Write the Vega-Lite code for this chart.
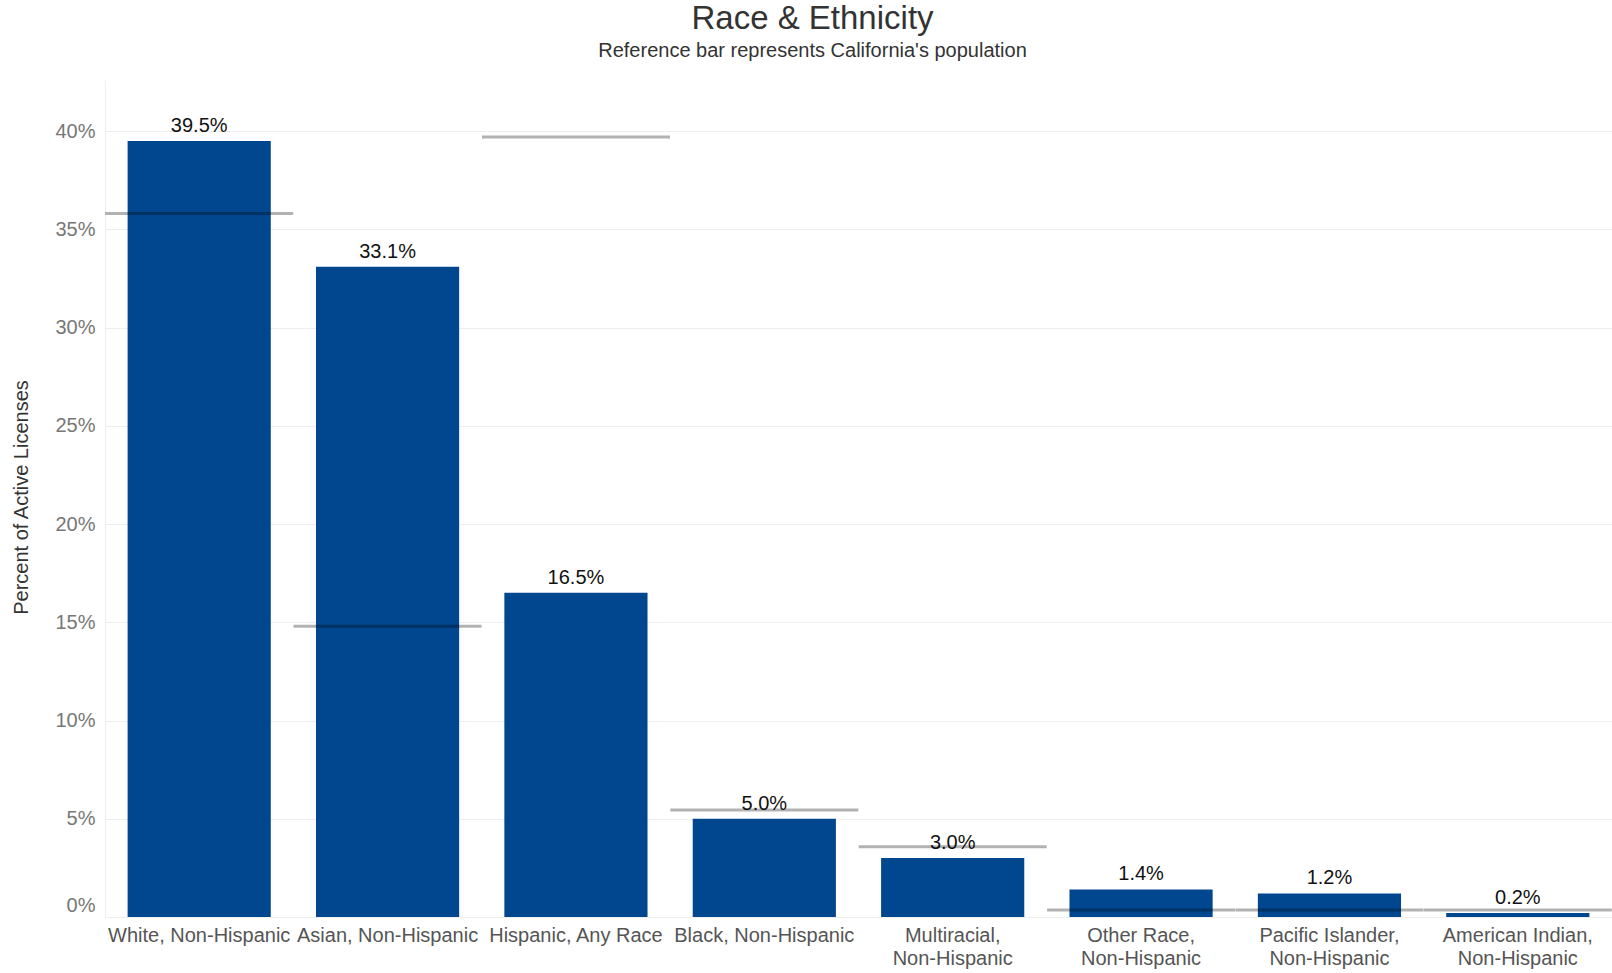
{
  "$schema": "https://vega.github.io/schema/vega-lite/v6.json",
  "width": 1507,
  "height": 837,
  "autosize": {"type": "none"},
  "padding": {"left": 105, "top": 80, "right": 0, "bottom": 56},
  "background": "white",
  "config": {"view": {"stroke": null}, "font": "Liberation Sans"},
  "title": {
    "text": "Race & Ethnicity",
    "subtitle": "Reference bar represents California's population",
    "font": "Liberation Sans",
    "fontSize": 33,
    "fontWeight": "normal",
    "color": "#333333",
    "subtitleFont": "Liberation Sans",
    "subtitleFontSize": 20,
    "subtitleColor": "#333333",
    "anchor": "middle",
    "dx": -46,
    "offset": 19,
    "subtitlePadding": 5
  },
  "data": {
    "values": [
      {"category": "White, Non-Hispanic", "value": 0.395, "ca": 0.358},
      {"category": "Asian, Non-Hispanic", "value": 0.331, "ca": 0.148},
      {"category": "Hispanic, Any Race", "value": 0.165, "ca": 0.397},
      {"category": "Black, Non-Hispanic", "value": 0.050, "ca": 0.0545},
      {"category": "Multiracial, Non-Hispanic", "value": 0.030, "ca": 0.0358},
      {"category": "Other Race, Non-Hispanic", "value": 0.014, "ca": 0.0036},
      {"category": "Pacific Islander, Non-Hispanic", "value": 0.012, "ca": 0.0036},
      {"category": "American Indian, Non-Hispanic", "value": 0.002, "ca": 0.0036}
    ]
  },
  "encoding": {
    "x": {
      "field": "category",
      "type": "nominal",
      "sort": null,
      "scale": {"paddingInner": 0.24, "paddingOuter": 0.12},
      "axis": {
        "title": null,
        "labelAngle": 0,
        "domain": false,
        "ticks": false,
        "grid": false,
        "labelPadding": 8,
        "labelFontSize": 20,
        "labelColor": "#555555",
        "labelLineHeight": 23,
        "labelBaseline": "top",
        "labelLimit": 300,
        "labelExpr": "length(datum.value) > 20 ? split(replace(datum.value, ', ', ',|'), '|') : datum.value"
      }
    }
  },
  "layer": [
    {
      "mark": {"type": "bar", "color": "#00478f"},
      "encoding": {
        "y": {
          "field": "value",
          "type": "quantitative",
          "scale": {"domain": [0, 0.426], "nice": false},
          "axis": {
            "values": [0, 0.05, 0.1, 0.15, 0.2, 0.25, 0.3, 0.35, 0.4],
            "format": ".0%",
            "grid": true,
            "gridColor": "#eeeeee",
            "domain": true,
            "domainColor": "#eeeeee",
            "ticks": false,
            "labelPadding": 10,
            "labelFontSize": 20,
            "labelColor": "#777777",
            "labelOffset": {"condition": {"test": "datum.value == 0", "value": -12}, "value": 0},
            "title": "Percent of Active Licenses",
            "titleFontSize": 20,
            "titleFontWeight": "normal",
            "titleColor": "#333333",
            "titleX": -74,
            "titleY": 417
          }
        }
      }
    },
    {
      "mark": {"type": "text", "baseline": "bottom", "dy": -5, "fontSize": 20, "font": "Liberation Sans", "color": "#111111"},
      "encoding": {
        "y": {"field": "value", "type": "quantitative"},
        "text": {"field": "value", "type": "quantitative", "format": ".1%"}
      }
    },
    {
      "mark": {"type": "tick", "color": "#000000", "opacity": 0.3, "thickness": 3, "size": 188},
      "encoding": {
        "y": {"field": "ca", "type": "quantitative"}
      }
    }
  ]
}
